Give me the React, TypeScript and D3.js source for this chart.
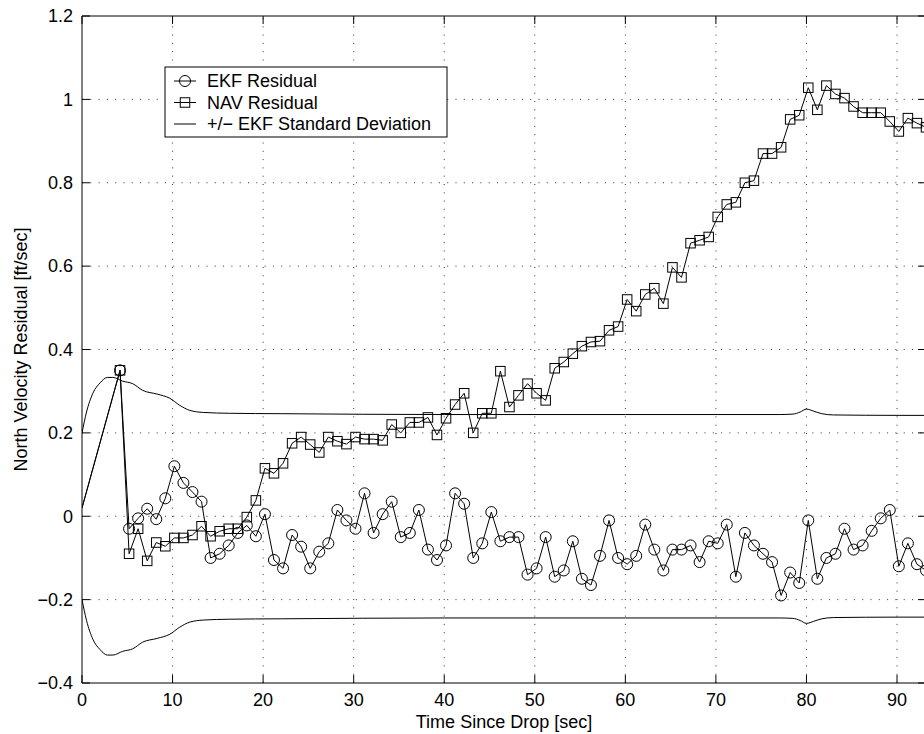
import React from "react";
import { scaleLinear, line, curveMonotoneX } from "d3";

// sample times [sec]; the first point is the initial state (drawn without marker)
const sampleTimes = [
  0, 4.2, 5.2, 6.2, 7.2, 8.2, 9.2, 10.2, 11.2, 12.2, 13.2, 14.2, 15.2, 16.2, 17.2,
  18.2, 19.2, 20.2, 21.2, 22.2, 23.2, 24.2, 25.2, 26.2, 27.2, 28.2, 29.2, 30.2,
  31.2, 32.2, 33.2, 34.2, 35.2, 36.2, 37.2, 38.2, 39.2, 40.2, 41.2, 42.2, 43.2,
  44.2, 45.2, 46.2, 47.2, 48.2, 49.2, 50.2, 51.2, 52.2, 53.2, 54.2, 55.2, 56.2,
  57.2, 58.2, 59.2, 60.2, 61.2, 62.2, 63.2, 64.2, 65.2, 66.2, 67.2, 68.2, 69.2,
  70.2, 71.2, 72.2, 73.2, 74.2, 75.2, 76.2, 77.2, 78.2, 79.2, 80.2, 81.2, 82.2,
  83.2, 84.2, 85.2, 86.2, 87.2, 88.2, 89.2, 90.2, 91.2, 92.2, 93.2,
];

const ekfResidual = [
  0.02, 0.35, -0.03, -0.005, 0.018, -0.007, 0.043, 0.12, 0.08, 0.058, 0.035, -0.1,
  -0.09, -0.07, -0.04, -0.022, -0.048, 0.005, -0.105, -0.125, -0.045, -0.073,
  -0.125, -0.085, -0.065, 0.015, -0.01, -0.03, 0.055, -0.04, 0.005, 0.035, -0.05,
  -0.04, 0.015, -0.08, -0.105, -0.07, 0.055, 0.03, -0.1, -0.065, 0.01, -0.06,
  -0.05, -0.05, -0.14, -0.125, -0.05, -0.145, -0.13, -0.06, -0.15, -0.165,
  -0.095, -0.01, -0.1, -0.115, -0.095, -0.02, -0.08, -0.13, -0.08, -0.08, -0.07,
  -0.11, -0.06, -0.065, -0.02, -0.145, -0.04, -0.07, -0.09, -0.11, -0.19, -0.135,
  -0.16, -0.01, -0.15, -0.1, -0.09, -0.03, -0.08, -0.07, -0.035, -0.005, 0.015,
  -0.12, -0.065, -0.115, -0.13,
];

const navResidual = [
  0.02, 0.35, -0.09, -0.03, -0.107, -0.063, -0.072, -0.052, -0.052, -0.045,
  -0.024, -0.048, -0.036, -0.03, -0.03, -0.002, 0.038, 0.115, 0.103, 0.127, 0.175,
  0.19, 0.172, 0.153, 0.19, 0.18, 0.173, 0.19, 0.185, 0.185, 0.182, 0.22, 0.2,
  0.225, 0.225, 0.237, 0.195, 0.235, 0.268, 0.295, 0.2, 0.247, 0.247, 0.348,
  0.262, 0.29, 0.318, 0.295, 0.278, 0.355, 0.37, 0.39, 0.408, 0.418, 0.42, 0.446,
  0.455, 0.52, 0.492, 0.532, 0.547, 0.51, 0.597, 0.573, 0.655, 0.662, 0.67,
  0.718, 0.748, 0.753, 0.8, 0.805, 0.87, 0.87, 0.885, 0.952, 0.962, 1.028, 0.975,
  1.033, 1.013, 1.003, 0.983, 0.968, 0.968, 0.968, 0.947, 0.923, 0.955, 0.943,
  0.933,
];

// EKF 1-sigma envelope (upper half; lower is the mirror)
const sigmaTimes = [
  0, 0.5, 1.2, 2, 2.8, 3.4, 4.5, 5.6, 6.7, 8.3, 9.7, 10.8, 11.9, 13.4, 16.3, 22,
  40, 60, 77, 78.5, 79.3, 80, 80.8, 81.7, 83, 90, 93.2,
];
const sigmaValues = [
  0.2, 0.25, 0.295, 0.32, 0.333, 0.333, 0.324, 0.318, 0.302, 0.293, 0.283, 0.266,
  0.254, 0.249, 0.247, 0.246, 0.244, 0.244, 0.244, 0.245, 0.25, 0.257, 0.252,
  0.246, 0.243, 0.242, 0.242,
];

const xTicks = [0, 10, 20, 30, 40, 50, 60, 70, 80, 90];
const yTicks = [-0.4, -0.2, 0, 0.2, 0.4, 0.6, 0.8, 1, 1.2];
const yTickLabels = ["\u22120.4", "\u22120.2", "0", "0.2", "0.4", "0.6", "0.8", "1", "1.2"];
const legendLabels = ["EKF Residual", "NAV Residual", "+/\u2212 EKF Standard Deviation"];

const W = 924;
const H = 734;
const left = 82;
const right = 926;
const top = 16;
const bottom = 683;
const font = "'Liberation Sans', Arial, Helvetica, sans-serif";

export default function App() {
  const x = scaleLinear().domain([0, 93.2]).range([left, right]);
  const y = scaleLinear().domain([-0.4, 1.2]).range([bottom, top]);

  const pts = (vals: number[]) => sampleTimes.map((t, i) => [t, vals[i]] as [number, number]);
  const straight = line<[number, number]>()
    .x((d) => x(d[0]))
    .y((d) => y(d[1]));
  const smooth = line<[number, number]>()
    .x((d) => x(d[0]))
    .y((d) => y(d[1]))
    .curve(curveMonotoneX);

  const upper = sigmaTimes.map((t, i) => [t, sigmaValues[i]] as [number, number]);
  const lower = sigmaTimes.map((t, i) => [t, -sigmaValues[i]] as [number, number]);

  const ekf = pts(ekfResidual);
  const nav = pts(navResidual);
  const tick = 8;
  const sq = 9.5;

  // legend layout
  const lgX = 165;
  const lgY = 67;
  const lgW = 282;
  const lgH = 70;
  const rowY = [81, 102.5, 124];

  return (
    <svg
      width={W}
      height={H}
      style={{ position: "absolute", left: 0, top: 0, background: "#fff" }}
      fontFamily={font}
    >
      <defs>
        <clipPath id="plotArea">
          <rect x={left} y={top} width={right - left} height={bottom - top} />
        </clipPath>
      </defs>
      <rect x={0} y={0} width={W} height={H} fill="#fff" />

      {/* dotted grid */}
      <g stroke="#333" strokeWidth={1} strokeDasharray="1 7.3">
        {xTicks.slice(1).map((t) => (
          <line key={"gx" + t} x1={x(t)} x2={x(t)} y1={bottom} y2={top} />
        ))}
        {yTicks.slice(1, -1).map((t) => (
          <line key={"gy" + t} x1={left} x2={right} y1={y(t)} y2={y(t)} />
        ))}
      </g>

      {/* data */}
      <g clipPath="url(#plotArea)" fill="none" stroke="#000" strokeWidth={1}>
        <path d={smooth(upper) || ""} />
        <path d={smooth(lower) || ""} />
        <path d={straight(ekf) || ""} />
        <path d={straight(nav) || ""} />
        {ekf.slice(1).map((d, i) => (
          <circle key={"c" + i} cx={x(d[0])} cy={y(d[1])} r={5.5} />
        ))}
        {nav.slice(1).map((d, i) => (
          <rect
            key={"s" + i}
            x={x(d[0]) - sq / 2}
            y={y(d[1]) - sq / 2}
            width={sq}
            height={sq}
          />
        ))}
      </g>

      {/* axes box + ticks */}
      <g stroke="#000" strokeWidth={1} fill="none">
        <line x1={left} x2={left} y1={top} y2={bottom} />
        <line x1={left} x2={right} y1={bottom} y2={bottom} />
        <line x1={left} x2={right} y1={top} y2={top} />
        <line x1={right} x2={right} y1={top} y2={bottom} />
        {xTicks.map((t) => (
          <g key={"xt" + t}>
            <line x1={x(t)} x2={x(t)} y1={bottom} y2={bottom - tick} />
            <line x1={x(t)} x2={x(t)} y1={top} y2={top + tick} />
          </g>
        ))}
        {yTicks.map((t) => (
          <g key={"yt" + t}>
            <line x1={left} x2={left + tick} y1={y(t)} y2={y(t)} />
            <line x1={right} x2={right - tick} y1={y(t)} y2={y(t)} />
          </g>
        ))}
      </g>

      {/* tick labels */}
      <g fontSize={18} fill="#000">
        {xTicks.map((t) => (
          <text key={"xl" + t} x={x(t)} y={706} textAnchor="middle">
            {t}
          </text>
        ))}
        {yTicks.map((t, i) => (
          <text key={"yl" + t} x={73} y={y(t)} dy="0.35em" textAnchor="end">
            {yTickLabels[i]}
          </text>
        ))}
      </g>

      {/* axis titles */}
      <text x={(left + right) / 2} y={728} fontSize={18} textAnchor="middle">
        Time Since Drop [sec]
      </text>
      <text
        transform={`translate(27,${(top + bottom) / 2}) rotate(-90)`}
        fontSize={18}
        textAnchor="middle"
      >
        North Velocity Residual [ft/sec]
      </text>

      {/* legend */}
      <g>
        <rect x={lgX} y={lgY} width={lgW} height={lgH} fill="#fff" stroke="#000" />
        {legendLabels.map((lab, i) => (
          <g key={lab}>
            <line x1={174} x2={196} y1={rowY[i]} y2={rowY[i]} stroke="#000" />
            {i === 0 && <circle cx={185} cy={rowY[i]} r={5.5} fill="none" stroke="#000" />}
            {i === 1 && (
              <rect x={185 - sq / 2} y={rowY[i] - sq / 2} width={sq} height={sq} fill="none" stroke="#000" />
            )}
            <text x={207} y={rowY[i]} dy="0.35em" fontSize={18}>
              {lab}
            </text>
          </g>
        ))}
      </g>
    </svg>
  );
}
